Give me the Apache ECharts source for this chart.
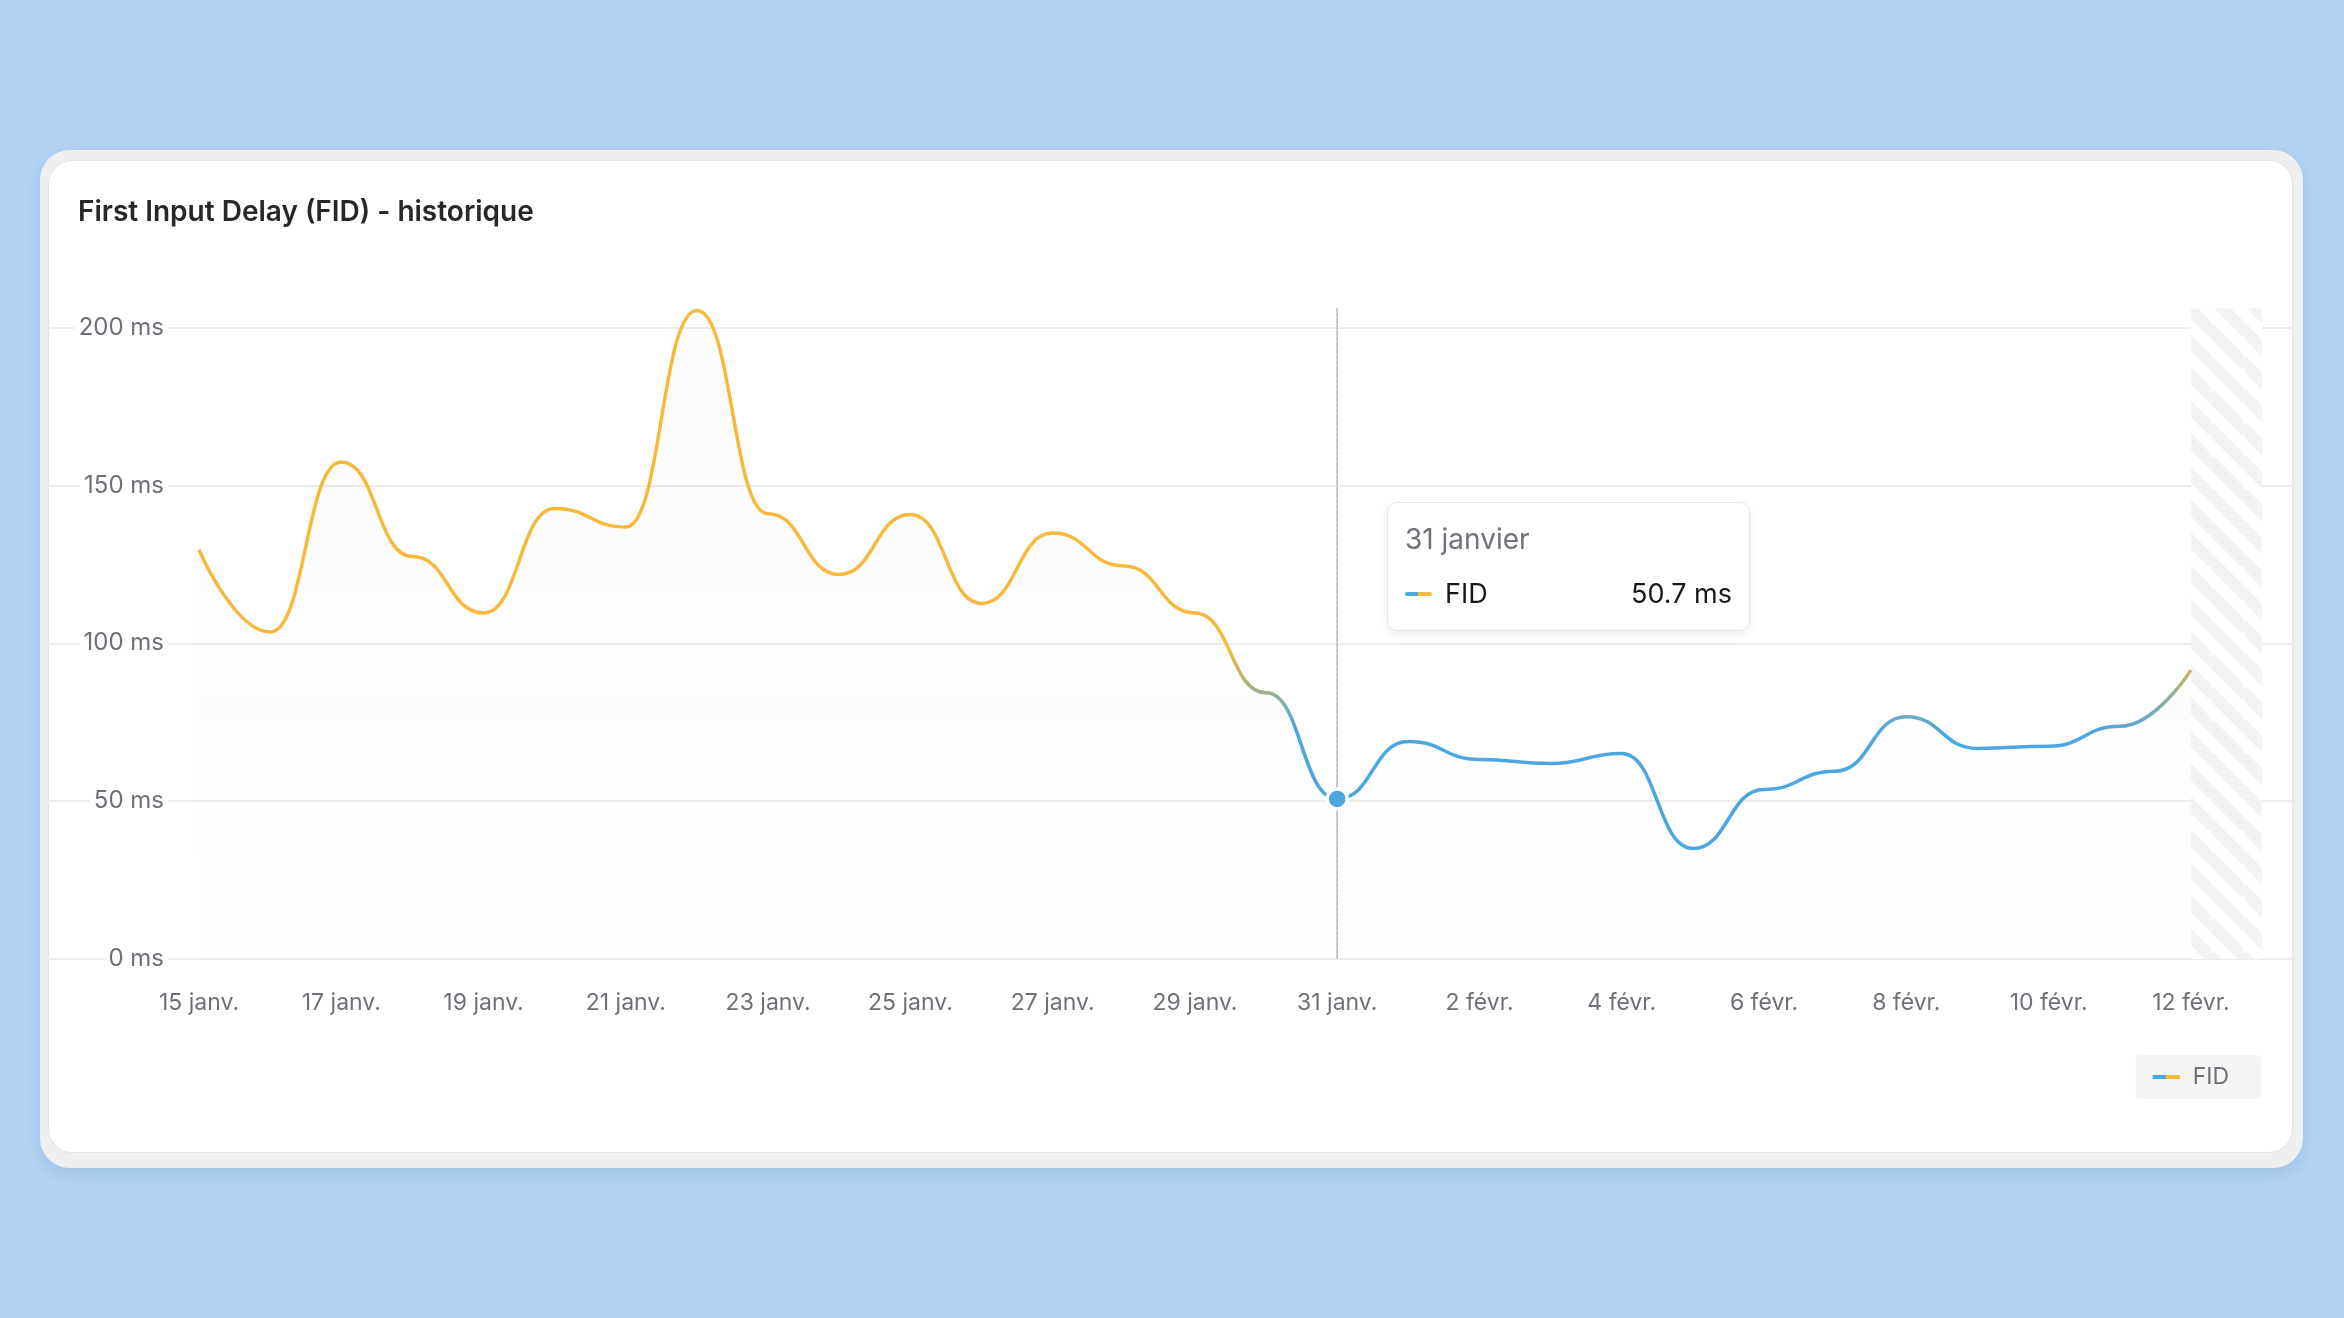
<!DOCTYPE html>
<html lang="fr">
<head>
<meta charset="UTF-8">
<script src="https://cdn.jsdelivr.net/npm/echarts@6/dist/echarts.min.js"></script>
<title>First Input Delay (FID) - historique</title>
<style>
  html, body {
    margin: 0;
    padding: 0;
    width: 2344px;
    height: 1318px;
    background: #b1d4f5;
    overflow: hidden;
    font-family: Inter, sans-serif;
  }
  .card {
    position: absolute;
    left: 40px;
    top: 150px;
    width: 2263px;
    height: 1018px;
    background: #efeff0;
    border-radius: 30px;
    box-shadow: 0 6px 14px rgba(40, 70, 110, 0.12);
  }
  .card .inner {
    position: absolute;
    left: 8px;
    top: 10px;
    right: 10px;
    bottom: 15px;
    background: #fff;
    border-radius: 24px;
    border: 1px solid #e3e3e6;
  }
  #chart {
    position: absolute;
    left: 0;
    top: 0;
    width: 2344px;
    height: 1318px;
  }
</style>
</head>
<body>
<div class="card"><div class="inner"></div></div>
<div id="chart"></div>
<script>
  // jours affichés (le dernier n'a pas encore de mesure)
  const dates = [
    '15 janv.', '16 janv.', '17 janv.', '18 janv.', '19 janv.', '20 janv.', '21 janv.',
    '22 janv.', '23 janv.', '24 janv.', '25 janv.', '26 janv.', '27 janv.', '28 janv.',
    '29 janv.', '30 janv.', '31 janv.', '1 févr.', '2 févr.', '3 févr.', '4 févr.',
    '5 févr.', '6 févr.', '7 févr.', '8 févr.', '9 févr.', '10 févr.', '11 févr.',
    '12 févr.', '13 févr.'
  ];
  // FID en ms
  const fid = [
    129.6, 103.6, 157.4, 127.5, 109.6, 142.7, 136.8, 205.4, 141.0, 121.8,
    140.8, 112.6, 134.9, 124.5, 109.6, 84.3, 50.7, 68.9, 63.2, 61.9,
    65.1, 35.0, 53.7, 59.5, 76.7, 66.7, 67.4, 73.7, 91.5
  ];
  const yTicks = [0, 50, 100, 150, 200];
  const monthNames = { 'janv.': 'janvier', 'févr.': 'février' };
  const selected = 16; // 31 janv.

  const BLUE = '#4ba7df';
  const YELLOW = '#f7b93c';
  const GREY = '#6f6f78';

  // hachures de la période en cours
  const hatch = document.createElement('canvas');
  const s = 33;
  hatch.width = s;
  hatch.height = s;
  const hctx = hatch.getContext('2d');
  hctx.fillStyle = '#ffffff';
  hctx.fillRect(0, 0, s, s);
  hctx.strokeStyle = '#f3f3f4';
  hctx.lineWidth = 12;
  [-s, 0, s].forEach(function (c) {
    hctx.beginPath();
    hctx.moveTo(-2, -2 + c);
    hctx.lineTo(s + 2, s + 2 + c);
    hctx.stroke();
  });

  const chart = echarts.init(document.getElementById('chart'));

  const gridTop = 308.6;
  const gridHeight = 650.4;

  const option = {
    animation: false,
    textStyle: { fontFamily: 'Inter, sans-serif' },
    title: {
      text: 'First Input Delay (FID) - historique',
      left: 78,
      top: 199,
      padding: 0,
      textStyle: { fontSize: 28, fontWeight: 600, color: '#27272a' }
    },
    grid: [
      { left: 48, right: 51, top: gridTop, height: gridHeight },
      { left: 199, right: 82, top: gridTop, height: gridHeight }
    ],
    xAxis: [
      { gridIndex: 0, type: 'value', min: 0, max: 1, show: false },
      {
        gridIndex: 1,
        type: 'category',
        data: dates,
        boundaryGap: false,
        axisLine: { show: false },
        axisTick: { show: false },
        splitLine: { show: false },
        axisLabel: {
          interval: 1,
          margin: 33,
          fontSize: 23,
          color: GREY
        },
        axisPointer: {
          type: 'line',
          z: 1,
          lineStyle: { color: '#cfcfd4', width: 2, type: 'solid' }
        }
      }
    ],
    yAxis: [
      {
        gridIndex: 0,
        type: 'value',
        min: 0,
        max: 206,
        interval: 50,
        axisLine: { show: false },
        axisTick: { show: false },
        splitLine: { showMaxLine: false, lineStyle: { color: '#ededee', width: 2 } },
        axisLabel: {
          inside: true,
          align: 'right',
          margin: 120,
          fontSize: 24,
          color: GREY,
          backgroundColor: '#fff',
          padding: [2, 4],
          formatter: function (v) {
            return yTicks.indexOf(v) >= 0 ? v + ' ms' : '';
          }
        }
      },
      { gridIndex: 1, type: 'value', min: 0, max: 206, show: false }
    ],
    visualMap: {
      show: false,
      type: 'continuous',
      seriesIndex: 0,
      dimension: 1,
      min: 72,
      max: 98,
      inRange: { color: [BLUE, YELLOW] },
      outOfRange: { color: [BLUE, YELLOW] }
    },
    legend: {
      right: 83,
      top: 1055,
      backgroundColor: '#f4f4f5',
      borderRadius: 4,
      padding: [10, 32, 10, 17],
      icon: 'rect',
      itemWidth: 27,
      itemHeight: 4,
      itemStyle: {
        color: new echarts.graphic.LinearGradient(0, 0, 1, 0, [
          { offset: 0, color: BLUE },
          { offset: 0.5, color: BLUE },
          { offset: 0.5, color: YELLOW },
          { offset: 1, color: YELLOW }
        ])
      },
      textStyle: { fontSize: 23, color: GREY, lineHeight: 24, padding: [0, 0, 0, 8] },
      data: ['FID']
    },
    tooltip: {
      trigger: 'axis',
      triggerOn: 'none',
      alwaysShowContent: true,
      padding: 0,
      borderWidth: 1,
      borderColor: '#e6e6e8',
      backgroundColor: '#fff',
      extraCssText: 'border-radius:10px;box-shadow:0 3px 10px rgba(0,0,0,0.07);',
      position: function () {
        return [1387, 502];
      },
      formatter: function (params) {
        const p = params[0];
        const parts = p.name.split(' ');
        const longName = parts[0] + ' ' + (monthNames[parts[1]] || parts[1]);
        return '<div style="box-sizing:border-box;width:361px;height:127px;padding:18px 17px 0 17px;font-family:Inter,sans-serif;">' +
          '<div style="font-size:28px;line-height:36px;color:#71717a;">' + longName + '</div>' +
          '<div style="display:flex;align-items:center;margin-top:20px;font-size:27px;line-height:34px;color:#18181b;">' +
          '<span style="display:inline-block;width:27px;height:4px;border-radius:2px;margin-right:13px;background:linear-gradient(to right,' + BLUE + ' 50%,' + YELLOW + ' 50%);"></span>' +
          '<span style="flex:1;">FID</span>' +
          '<span>' + p.value.toFixed(1) + ' ms</span>' +
          '</div></div>';
      }
    },
    series: [
      {
        name: 'FID',
        type: 'line',
        xAxisIndex: 1,
        yAxisIndex: 1,
        data: fid,
        smooth: 0.5,
        smoothMonotone: 'x',
        showSymbol: false,
        symbol: 'none',
        lineStyle: { width: 3.5 },
        emphasis: { disabled: true },
        areaStyle: {
          color: {
            type: 'linear', x: 0, y: 0, x2: 0, y2: 1,
            colorStops: [
              { offset: 0, color: 'rgba(60,60,40,0.03)' },
              { offset: 1, color: 'rgba(60,60,40,0.005)' }
            ]
          }
        },
        markPoint: {
          silent: true,
          z: 100,
          symbol: 'circle',
          symbolSize: 20,
          itemStyle: { color: BLUE, borderColor: '#fff', borderWidth: 3.5 },
          label: { show: false },
          data: [{ coord: [dates[selected], fid[selected]] }]
        },
        markArea: {
          silent: true,
          itemStyle: { color: { image: hatch, repeat: 'repeat' } },
          data: [[{ xAxis: '12 févr.' }, { xAxis: '13 févr.' }]]
        }
      }
    ]
  };

  chart.setOption(option);
  chart.dispatchAction({ type: 'showTip', seriesIndex: 0, dataIndex: selected });
</script>
</body>
</html>
